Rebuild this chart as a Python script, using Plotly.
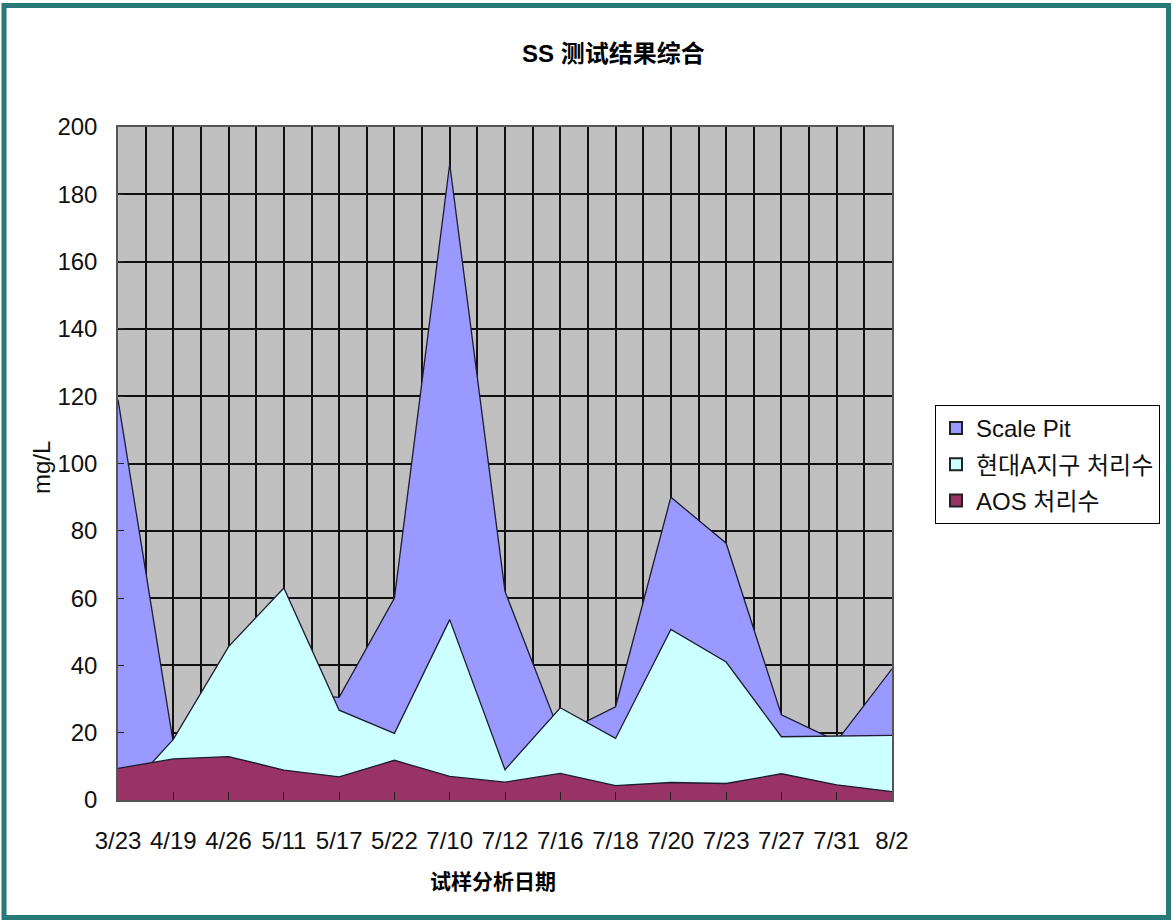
import plotly.graph_objects as go

# Sampling dates (category axis)
dates = ["3/23", "4/19", "4/26", "5/11", "5/17", "5/22", "7/10", "7/12",
         "7/16", "7/18", "7/20", "7/23", "7/27", "7/31", "8/2"]

# SS concentration (mg/L) per sampling point
scale_pit = [119, 17, 25, 32, 30.5, 60, 189, 62, 19.5, 27.7, 90, 76.3, 25.3, 17.5, 39]
hyundai_a = [0, 18, 45.6, 63, 26.7, 19.8, 53.6, 9, 27.4, 18.3, 50.7, 41, 18.8, 19, 19.2]
aos = [9.4, 12.2, 12.9, 8.9, 6.9, 11.8, 7.0, 5.3, 7.9, 4.3, 5.2, 4.9, 7.8, 4.5, 2.5]

y_ticks = list(range(0, 201, 20))

series = [
    ("Scale Pit", scale_pit, "#9999FF"),
    ("현대A지구 처리수", hyundai_a, "#CCFFFF"),
    ("AOS 처리수", aos, "#993366"),
]

W, H = 1173, 922
L, R, T, B = 118, 892, 127, 800  # plot area in pixels


def px(xp):
    return (xp - L) / (R - L)


def py(yp):
    return (B - yp) / (B - T)


LATIN = "Liberation Sans, Arial, Noto Sans CJK KR, sans-serif"

fig = go.Figure()
xs = list(range(len(dates)))

# overlapping (unstacked) areas, drawn back to front
for name, vals, col in series:
    fig.add_trace(go.Scatter(
        x=xs, y=vals, mode="lines", fill="tozeroy", fillcolor=col,
        line=dict(color="#1c1c30", width=1.3), name=name,
        showlegend=False, hoverinfo="x+y+name",
    ))

# legend swatches
for name, vals, col in series:
    fig.add_trace(go.Scatter(
        x=[None], y=[None], mode="markers", name=name, legendgroup=name,
        marker=dict(symbol="square", size=12, color=col,
                    line=dict(color="#222222", width=1)),
    ))

fig.update_layout(
    width=W, height=H, autosize=False,
    margin=dict(l=L, r=W - R, t=T, b=H - B, pad=0),
    paper_bgcolor="white", plot_bgcolor="#C0C0C0",
    font=dict(family=LATIN, size=24, color="#111111"),
    showlegend=True,
    legend=dict(
        x=px(935), y=py(405), xanchor="left", yanchor="top",
        bgcolor="white", bordercolor="#000000", borderwidth=1,
        font=dict(family=LATIN, size=24, color="#111111"),
        itemsizing="constant", tracegroupgap=2, itemwidth=30,
    ),
)

fig.update_xaxes(
    range=[0, len(dates) - 1], tickmode="array", tickvals=xs, ticktext=dates,
    showgrid=True, gridcolor="#111111", gridwidth=1.5,
    minor=dict(tickmode="linear", tick0=0, dtick=0.5, showgrid=True,
               gridcolor="#111111", gridwidth=1.5, ticks=""),
    ticks="inside", ticklen=8, tickcolor="#222222", tickwidth=1,
    showline=True, linecolor="#555555", linewidth=1.5, mirror=True,
    tickfont=dict(family=LATIN, size=24, color="#111111"),
    ticklabelstandoff=18, zeroline=False, fixedrange=True,
)
fig.update_yaxes(
    range=[0, 200], tickmode="array", tickvals=y_ticks,
    showgrid=True, gridcolor="#111111", gridwidth=1.5,
    ticks="inside", ticklen=6, tickcolor="#222222", tickwidth=1,
    showline=True, linecolor="#555555", linewidth=1.5, mirror=True,
    tickfont=dict(family=LATIN, size=24, color="#111111"),
    ticklabelstandoff=14, zeroline=False, fixedrange=True,
)

# chart title, axis titles
fig.add_annotation(
    text="<b>SS 测试结果综合</b>", xref="paper", yref="paper",
    x=px(613), y=py(54), xanchor="center", yanchor="middle", showarrow=False,
    font=dict(family="Liberation Sans, Arial, Noto Sans CJK SC", size=24, color="#000000"),
)
fig.add_annotation(
    text="<b>试样分析日期</b>", xref="paper", yref="paper",
    x=px(493), y=py(880), xanchor="center", yanchor="middle", showarrow=False,
    font=dict(family="Noto Sans CJK SC", size=21, color="#000000"),
)
fig.add_annotation(
    text="mg/L", xref="paper", yref="paper", textangle=-90,
    x=px(41), y=py(468), xanchor="center", yanchor="middle", showarrow=False,
    font=dict(family=LATIN, size=24, color="#111111"),
)

# outer frame around the chart
fig.add_shape(
    type="rect", xref="paper", yref="paper",
    x0=px(4), x1=px(1168.5), y0=py(917.5), y1=py(5.5),
    line=dict(color="#277A78", width=5), fillcolor="rgba(0,0,0,0)", layer="above",
)

fig.write_html("out.html")
